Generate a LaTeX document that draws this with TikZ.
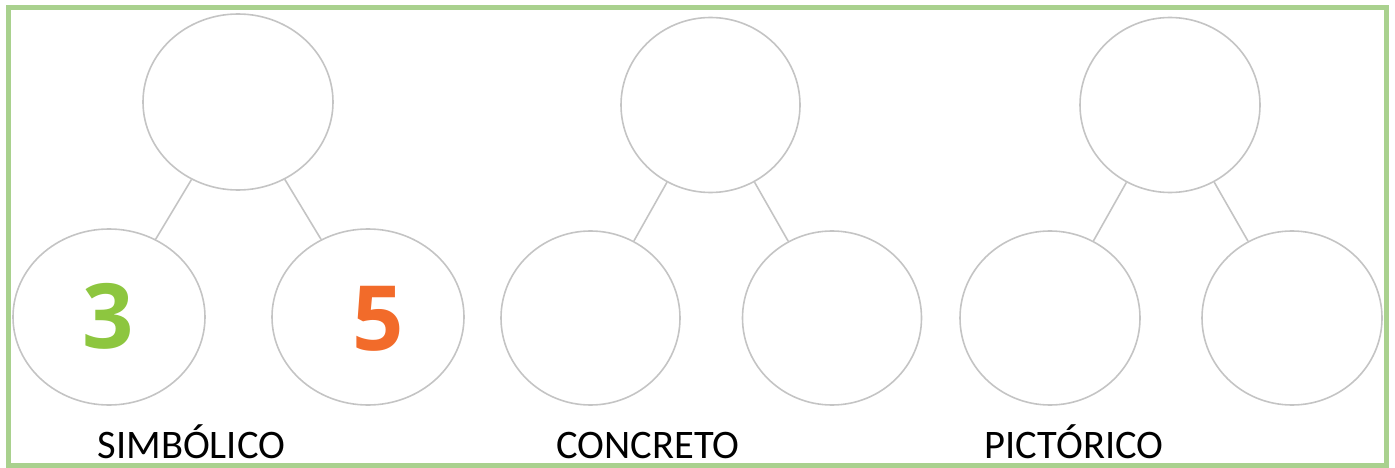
\documentclass[tikz,border=0pt]{standalone}
\usepackage{fontspec}
\setmainfont{Carlito}
\newfontfamily\digitfont{Open Sans}
\usetikzlibrary{shapes.geometric}
\definecolor{framegreen}{HTML}{A9D18E}
\definecolor{ringgray}{HTML}{C4C4C4}
\definecolor{numgreen}{HTML}{8DC63F}
\definecolor{numorange}{HTML}{F26B2A}
\tikzset{
  ring/.style={ellipse, draw=ringgray, line width=1.6pt, inner sep=0pt,
    minimum width=#1},
  ring/.default=180pt,
  link/.style={draw=ringgray, line width=1.6pt},
  digit/.style={inner sep=0pt, font=\digitfont\bfseries\fontsize{90}{92}\selectfont},
  caption/.style={anchor=base, inner sep=0pt, font=\fontsize{40.5}{48}\selectfont},
}
\begin{document}
\begin{tikzpicture}[x=1pt,y=-1pt]
\useasboundingbox (0,0) rectangle (1395,468);
\draw[framegreen, line width=5pt] (8.5,7.5) rectangle (1386,465);
% SIMBOLICO
\node[ring=190pt, minimum height=176pt] (s0) at (238,102) {};
\node[ring=192pt, minimum height=176pt] (s1) at (109,317) {};
\node[ring=192pt, minimum height=176pt] (s2) at (368,317) {};
\node[digit, text=numgreen] (n3) at (108,316.5) {3};
\node[digit, text=numorange] (n5) at (378,318.5) {5};
\draw[link] (s0) -- (s1);
\draw[link] (s0) -- (s2);
\node[caption] (sl) at (191.5,458) {SIMBÓLICO};
% CONCRETO
\node[ring=179pt, minimum height=175pt] (c0) at (710.5,105) {};
\node[ring=179pt, minimum height=174pt] (c1) at (590.5,318) {};
\node[ring=179pt, minimum height=174pt] (c2) at (832,318) {};
\draw[link] (c0) -- (c1);
\draw[link] (c0) -- (c2);
\node[caption] (cl) at (648,458) {CONCRETO};
% PICTORICO
\node[ring=180pt, minimum height=175pt] (p0) at (1170,105) {};
\node[ring=180pt, minimum height=174pt] (p1) at (1050,318) {};
\node[ring=180pt, minimum height=174pt] (p2) at (1292,318) {};
\draw[link] (p0) -- (p1);
\draw[link] (p0) -- (p2);
\node[caption] (pl) at (1074,458) {PICTÓRICO};
\end{tikzpicture}
\end{document}
